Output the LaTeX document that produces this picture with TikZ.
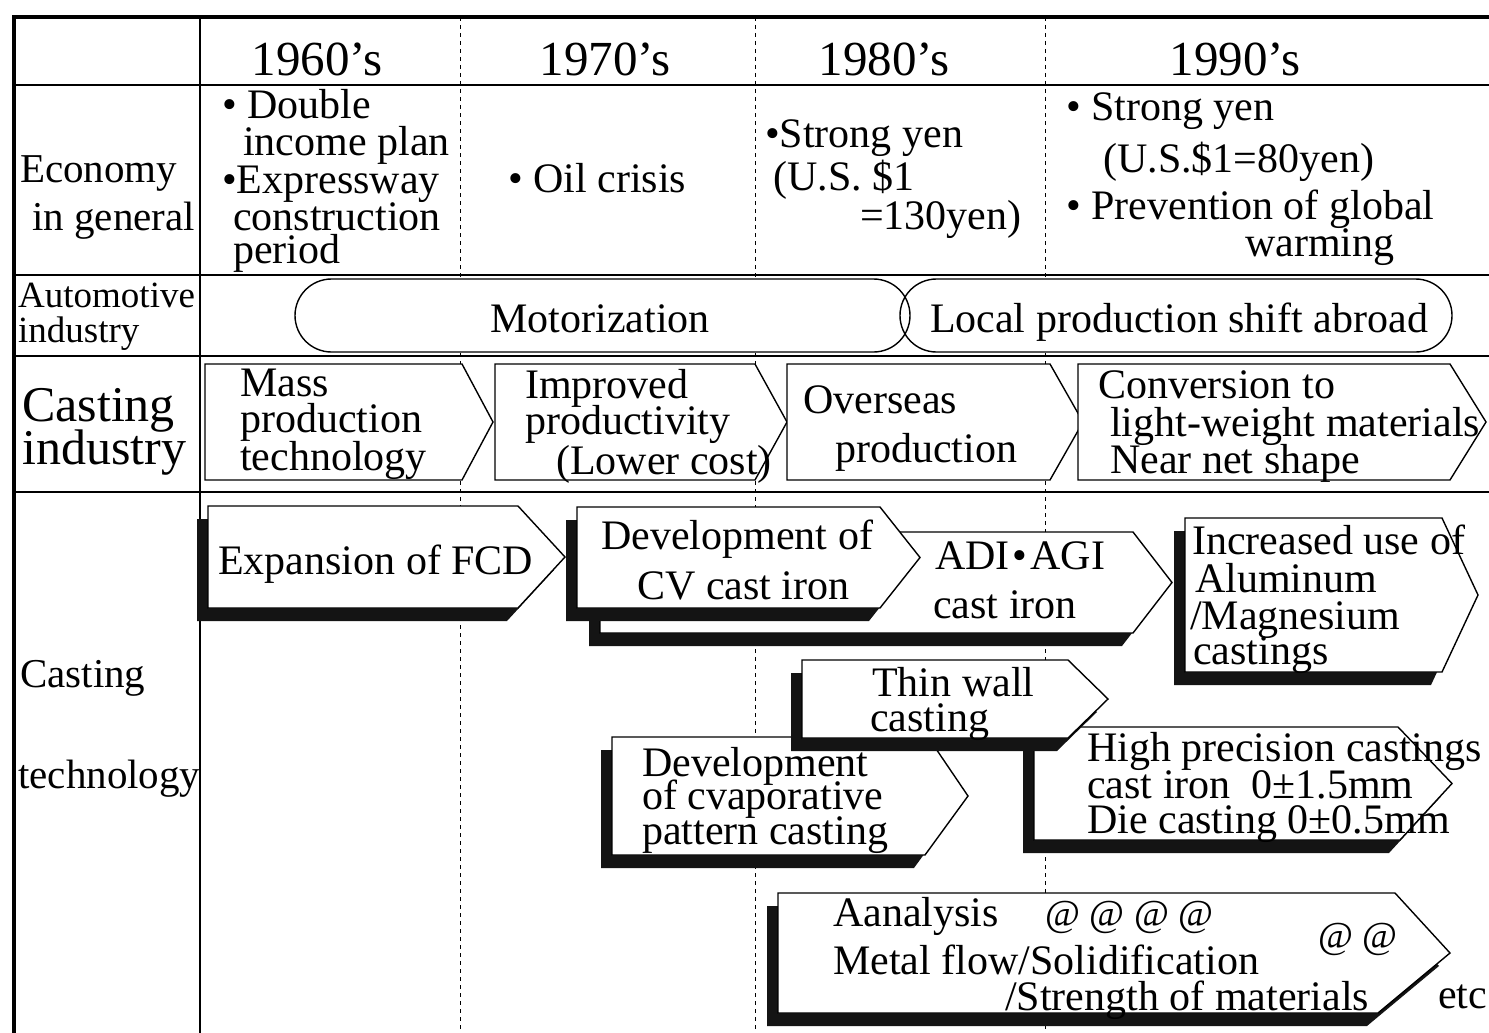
\documentclass[tikz,border=0pt]{standalone}
\usepackage{fontspec}
\setmainfont{Liberation Serif}
\newcommand\sigpath[6]{(#1,#2) -- (#3,#2) -- (#4,{(#2+#5)/2}) -- (#6,#5) -- (#1,#5) -- cycle}
\newcommand\shsig[6]{%
  \fill[shadowc, shift={(-11,13)}] \sigpath{#1}{#2}{#3}{#4}{#5}{#6};
  \filldraw[boxline] \sigpath{#1}{#2}{#3}{#4}{#5}{#6};}
\begin{document}
\begin{tikzpicture}[x=1pt,y=-1pt,
  t/.style={anchor=base west, inner sep=0pt, font=\fontsize{42}{42}\selectfont},
  lab/.style={anchor=base west, inner sep=0pt, font=\fontsize{41}{41}\selectfont},
  sm/.style={anchor=base west, inner sep=0pt, font=\fontsize{37}{37}\selectfont},
  big/.style={anchor=base west, inner sep=0pt, font=\fontsize{50}{50}\selectfont},
  yr/.style={anchor=base, inner sep=0pt, font=\fontsize{49}{49}\selectfont},
  atsym/.style={anchor=base west, inner sep=0pt, font=\fontsize{38}{38}\selectfont},
  shadowc/.style={fill=black!92},
  boxline/.style={fill=white, draw=black, line width=1.4pt, line join=miter},
  indbox/.style={fill=white, draw=black, line width=1.4pt},
  grid/.style={line width=2.4pt},
  sepline/.style={line width=0.8pt, dash pattern=on 4pt off 4pt}]
\useasboundingbox (0,0) rectangle (1489,1033);
\fill[white] (0,0) rectangle (1489,1033);
% separators
\draw[sepline] (460,17) -- (460,1033);
\draw[sepline] (755,17) -- (755,1033);
\draw[sepline] (1045,17) -- (1045,1033);
% grid
\draw[line width=4pt, line join=miter] (14,1033) -- (14,17) -- (1489,17);
\draw[line width=2pt] (200,17) -- (200,1033);
\draw[grid] (14,85) -- (1489,85);
\draw[grid] (14,275) -- (1489,275);
\draw[grid] (14,356) -- (1489,356);
\draw[grid] (14,492) -- (1489,492);
% header
\node[yr] (y60) at (317,76) {1960’s};
\node[yr] (y70) at (605,76) {1970’s};
\node[yr] (y80) at (884,76) {1980’s};
\node[yr] (y90) at (1235,76) {1990’s};
% economy
\node[lab] (econ1) at (20,182) {Economy};
\node[lab] (econ2) at (32,230) {in general};
\node[t] (d1) at (222,118) {• Double};
\node[t] (d2) at (243,155) {income plan};
\node[t] (d3) at (222,193) {•Expressway};
\node[t] (d4) at (233,230) {construction};
\node[t] (d5) at (233,263) {period};
\node[t] (oil) at (508,192) {• Oil crisis};
\node[t] (sy1) at (765,147) {•Strong yen};
\node[t] (sy2) at (773,190) {(U.S. \$1};
\node[t] (sy3) at (860,229) {=130yen)};
\node[t] (sz1) at (1066,121) {• Strong yen};
\node[t] (sz2) at (1103,172) {(U.S.\$1=80yen)};
\node[t] (sz3) at (1066,219) {• Prevention of global};
\node[t] (sz4) at (1245,256) {warming};
% automotive
\node[sm] (au1) at (18,307) {Automotive};
\node[sm] (au2) at (18,342) {industry};
\fill[white, rounded corners=36.5pt] (295,279) rectangle (910,352);
\fill[white, rounded corners=36.5pt] (900,279) rectangle (1452,352);
\draw[line width=1.4pt, rounded corners=36.5pt] (295,279) rectangle (910,352);
\draw[line width=1.4pt, rounded corners=36.5pt] (900,279) rectangle (1452,352);
\node[t, anchor=base] (moto) at (600,332) {Motorization};
\node[t, anchor=base] (local) at (1179,332) {Local production shift abroad};
% casting industry
\node[big] (ci1) at (22,421) {Casting};
\node[big] (ci2) at (22,464) {industry};
\filldraw[indbox] \sigpath{205}{364}{462}{493}{480}{462};
\filldraw[indbox] \sigpath{495}{364}{755}{787}{480}{755};
\filldraw[indbox] \sigpath{787}{364}{1050}{1083}{480}{1050};
\filldraw[indbox] \sigpath{1078}{364}{1450}{1486}{480}{1450};
\node[t] (a1a) at (240,396) {Mass};
\node[t] (a1b) at (240,432) {production};
\node[t] (a1c) at (240,470) {technology};
\node[t] (a2a) at (525,398) {Improved};
\node[t] (a2b) at (525,434) {productivity};
\node[t] (a2c) at (556,474) {(Lower cost)};
\node[t] (a3a) at (803,413) {Overseas};
\node[t] (a3b) at (835,462) {production};
\node[t] (a4a) at (1098,398) {Conversion to};
\node[t] (a4b) at (1110,436) {light-weight materials};
\node[t] (a4c) at (1110,473) {Near net shape};
% casting technology
\node[lab] (ct1) at (20,687) {Casting};
\node[lab] (ct2) at (18,788) {technology};
\shsig{208}{506}{518}{565}{608}{518}
\node[t] (fcd) at (218,574) {Expansion of FCD};
\shsig{600}{532}{1133}{1172}{633}{1133}
\node[t] (adi1) at (935,569) {ADI\kern3pt•\kern3pt AGI};
\node[t] (adi2) at (933,618) {cast iron};
\shsig{577}{507}{880}{920}{608}{880}
\node[t] (cv1) at (601,549) {Development of};
\node[t] (cv2) at (637,599) {CV cast iron};
\shsig{1185}{518}{1442}{1478}{672}{1442}
\node[t] (al1) at (1192,554) {Increased use of};
\node[t] (al2) at (1195,592) {Aluminum};
\node[t] (al3) at (1190,629) {/Magnesium};
\node[t] (al4) at (1193,664) {castings};
\shsig{612}{737}{928}{968}{855}{925}
\node[t] (ev1) at (642,776) {Development};
\node[t] (ev2) at (642,809) {of cvaporative};
\node[t] (ev3) at (642,844) {pattern casting};
\shsig{1034}{727}{1398}{1452}{840}{1400}
\node[t] (hp1) at (1087,761) {High precision castings};
\node[t] (hp2) at (1087,798) {cast iron\ \ 0±1.5mm};
\node[t] (hp3) at (1087,833) {Die casting 0±0.5mm};
\shsig{802}{660}{1068}{1108}{738}{1068}
\node[t] (tw1) at (872,696) {Thin wall};
\node[t] (tw2) at (870,731) {casting};
\shsig{778}{893}{1395}{1450}{1013}{1378}
\node[t] (an1) at (833,926) {Aanalysis};
\node[atsym] (an2) at (1045,926) {@ @ @ @};
\node[atsym] (an3) at (1318,948) {@ @};
\node[t] (an4) at (833,974) {Metal flow/Solidification};
\node[t] (an5) at (1005,1010) {/Strength of materials};
\node[t] (etc) at (1438,1008) {etc};
\end{tikzpicture}
\end{document}
